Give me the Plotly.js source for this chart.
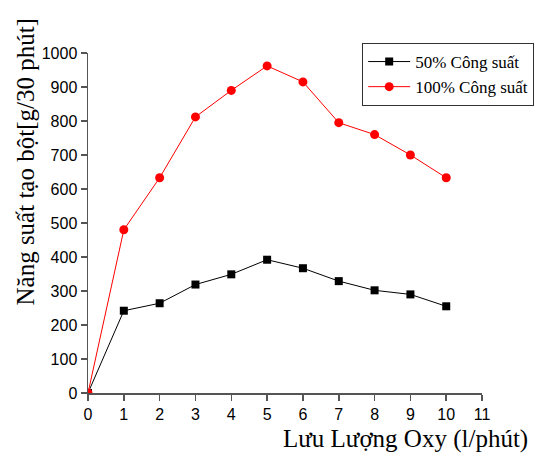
<!DOCTYPE html>
<html>
<head>
<meta charset="utf-8">
<script src="https://cdn.plot.ly/plotly-3.0.1.min.js"></script>
<style>html,body{margin:0;padding:0;background:#fff;}#chart{width:541px;height:457px;}</style>
</head>
<body>
<div id="chart"></div>
<script>
const oxyFlow = [0, 1, 2, 3, 4, 5, 6, 7, 8, 9, 10];
const power50 = [0, 242, 264, 319, 349, 392, 367, 329, 302, 290, 255];
const power100 = [0, 480, 633, 812, 890, 962, 915, 795, 760, 700, 633];
const seriesNames = ["50% Công suất", "100% Công suất"];
const xTitle = "Lưu Lượng Oxy (l/phút)";
const yTitle = "Năng suất tạo bột[g/30 phút]";

const serif = "Liberation Serif, Times New Roman, serif";
const sans = "Liberation Sans, Arial, sans-serif";

const traces = [
  {
    x: oxyFlow, y: power50, name: seriesNames[0], type: "scatter", mode: "lines+markers",
    line: {color: "#000000", width: 1},
    marker: {symbol: "square", size: 8, color: "#000000"}
  },
  {
    x: oxyFlow, y: power100, name: seriesNames[1], type: "scatter", mode: "lines+markers",
    line: {color: "#ff0000", width: 1},
    marker: {symbol: "circle", size: 9, color: "#ff0000"}
  }
];

const layout = {
  width: 541, height: 457,
  margin: {l: 87.5, r: 5, t: 40, b: 63.5},
  paper_bgcolor: "#ffffff", plot_bgcolor: "#ffffff",
  showlegend: true,
  legend: {
    x: 0.612, y: 0.9915, xanchor: "left", yanchor: "top",
    bordercolor: "#333333", borderwidth: 1, bgcolor: "#ffffff",
    font: {family: serif, size: 17, color: "#000000"},
    itemwidth: 42,
    tracegroupgap: 0
  },
  xaxis: {
    domain: [0, 0.8796],
    range: [0, 11], dtick: 1, tick0: 0,
    showline: true, linecolor: "#555555", linewidth: 1.5,
    ticks: "outside", ticklen: 6, tickcolor: "#555555", tickwidth: 1.5,
    showgrid: false, zeroline: false,
    tickfont: {family: sans, size: 16, color: "#000000"}
  },
  yaxis: {
    domain: [0, 0.9632],
    range: [0, 1000], dtick: 100, tick0: 0,
    showline: true, linecolor: "#555555", linewidth: 1.5,
    ticks: "outside", ticklen: 6, tickcolor: "#555555", tickwidth: 1.5,
    showgrid: false, zeroline: false,
    tickfont: {family: sans, size: 16, color: "#000000"}
  },
  annotations: [
    {text: xTitle, xref: "paper", yref: "paper", x: 0.9866, y: -0.1315,
     xanchor: "right", yanchor: "middle", showarrow: false,
     font: {family: serif, size: 25, color: "#000000"}},
    {text: yTitle, xref: "paper", yref: "paper", x: -0.139, y: 0.655,
     xanchor: "center", yanchor: "middle", textangle: -90, showarrow: false,
     font: {family: serif, size: 25, color: "#000000"}}
  ]
};

Plotly.newPlot("chart", traces, layout, {displayModeBar: false, staticPlot: true});
</script>
</body>
</html>
